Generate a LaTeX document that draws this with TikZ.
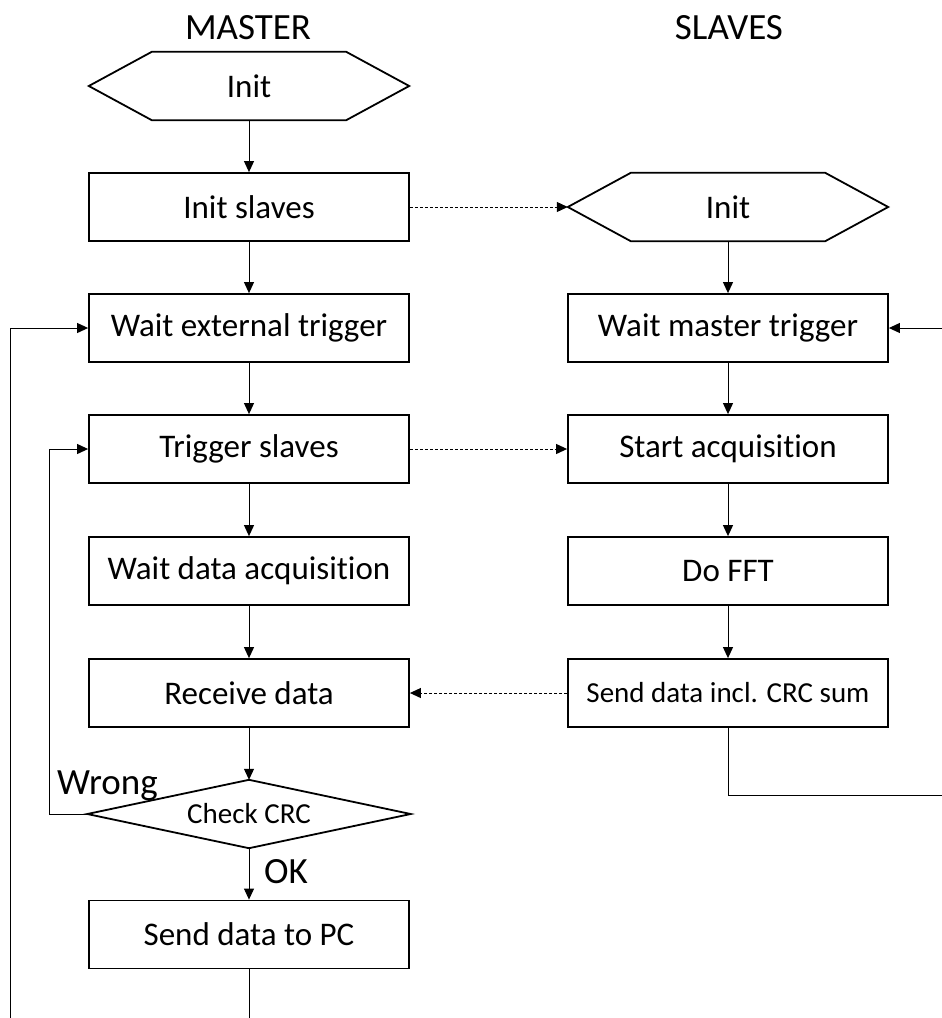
\documentclass[tikz,border=0pt]{standalone}
\usepackage{fontspec}
\setmainfont{Carlito}[Ligatures={NoCommon}]
\usetikzlibrary{arrows.meta}
\begin{document}
\begin{tikzpicture}[x=1pt,y=-1pt,
  boxtext/.style={font=\fontsize{33}{40}\selectfont},
  smalltext/.style={font=\fontsize{29}{35}\selectfont},
  labeltext/.style={font=\fontsize{37}{44}\selectfont},
  stepbox/.style={draw, line width=1.8pt, rectangle, minimum width=320pt, minimum height=68pt, inner sep=0pt, boxtext},
  hexbox/.style={rectangle, minimum width=320pt, minimum height=68pt, inner sep=0pt, boxtext},
  decbox/.style={rectangle, minimum width=323pt, minimum height=68pt, inner sep=0pt, smalltext},
  conn/.style={line width=1pt, -{Triangle[length=11pt,width=10pt]}},
  plain/.style={line width=1pt},
  dconn/.style={line width=1pt, dash pattern=on 3pt off 2pt, -{Triangle[length=11pt,width=10pt]}},
  hexline/.style={line width=1.8pt, line join=miter}
]
\useasboundingbox (0,0) rectangle (942,1018);
% titles
\node[labeltext] (tmaster) at (248,28) {MASTER};
\node[labeltext] (tslaves) at (729,28) {SLAVES};
% master column
\node[hexbox] (minit) at (249,86) {Init};
\draw[hexline] (minit.west) -- ([xshift=63pt]minit.north west) -- ([xshift=-63pt]minit.north east) -- (minit.east) -- ([xshift=-63pt]minit.south east) -- ([xshift=63pt]minit.south west) -- cycle;
\node[stepbox] (islaves) at (249,207) {Init slaves};
\node[stepbox] (waitext) at (249,328) {Wait external trigger};
\node[stepbox] (trig) at (249,449) {Trigger slaves};
\node[stepbox] (waitdata) at (249,571) {Wait data acquisition};
\node[stepbox] (recv) at (249,693) {Receive data};
\node[decbox] (check) at (249,814) {Check CRC};
\draw[hexline] (check.west) -- (check.north) -- (check.east) -- (check.south) -- cycle;
\node[stepbox] (sendpc) at (249,934.5) {Send data to PC};
% slave column
\node[hexbox] (sinit) at (728,207) {Init};
\draw[hexline] (sinit.west) -- ([xshift=63pt]sinit.north west) -- ([xshift=-63pt]sinit.north east) -- (sinit.east) -- ([xshift=-63pt]sinit.south east) -- ([xshift=63pt]sinit.south west) -- cycle;
\node[stepbox] (waitmaster) at (728,328) {Wait master trigger};
\node[stepbox] (startacq) at (728,449) {Start acquisition};
\node[stepbox] (dofft) at (728,571) {Do FFT};
\node[stepbox, smalltext] (senddata) at (728,693) {Send data incl. CRC sum};
% free ends
\coordinate (mbottom) at (249,1018);
\coordinate (lbottom) at (10,1018);
\coordinate (rtop) at (942,328);
\coordinate (rbottom) at (942,795);
% master connectors
\draw[conn] (minit.south) -- (islaves.north);
\draw[conn] (islaves.south) -- (waitext.north);
\draw[conn] (waitext.south) -- (trig.north);
\draw[conn] (trig.south) -- (waitdata.north);
\draw[conn] (waitdata.south) -- (recv.north);
\draw[conn] (recv.south) -- (check.north);
\draw[conn] (check.south) -- (sendpc.north);
\draw[plain] (sendpc.south) -- (mbottom);
\draw[conn] (check.west) -- (49,814) |- (trig.west);
\draw[conn] (lbottom) |- (waitext.west);
% slave connectors
\draw[conn] (sinit.south) -- (waitmaster.north);
\draw[conn] (waitmaster.south) -- (startacq.north);
\draw[conn] (startacq.south) -- (dofft.north);
\draw[conn] (dofft.south) -- (senddata.north);
\draw[plain] (senddata.south) |- (rbottom);
\draw[conn] (rtop) -- (waitmaster.east);
% cross connectors
\draw[dconn] (islaves.east) -- (sinit.west);
\draw[dconn] (trig.east) -- (startacq.west);
\draw[dconn] (senddata.west) -- (recv.east);
% labels
\node[labeltext, anchor=base west, inner sep=0pt] (lwrong) at (57,794) {Wrong};
\node[labeltext, anchor=base west, inner sep=0pt] (lok) at (264,883) {OK};
\end{tikzpicture}
\end{document}
